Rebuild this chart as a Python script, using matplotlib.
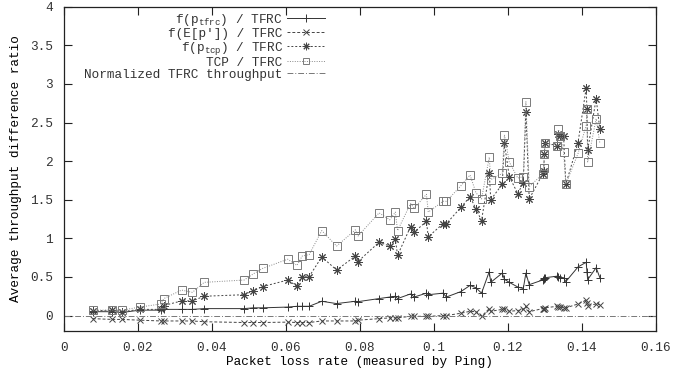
import matplotlib
matplotlib.use("Agg")
import matplotlib.pyplot as plt

# ---- data ----
loss = [0.0078, 0.0130, 0.0157, 0.0205, 0.0262, 0.0270, 0.0318, 0.0347, 0.0379,
        0.0487, 0.0512, 0.0537, 0.0605, 0.0630, 0.0644, 0.0663, 0.0697, 0.0737,
        0.0788, 0.0795, 0.0852, 0.0881, 0.0896, 0.0902, 0.0937, 0.0947, 0.0980,
        0.0985, 0.1025, 0.1034, 0.1073, 0.1098, 0.1114, 0.1129, 0.1150, 0.1154,
        0.1185, 0.1191, 0.1204, 0.1227, 0.1242, 0.1249, 0.1258, 0.1294, 0.1297,
        0.1299, 0.1301, 0.1333, 0.1337, 0.1342, 0.1351, 0.1357, 0.1390, 0.1412,
        0.1414, 0.1416, 0.1439, 0.1449]

f_tfrc = [0.05, 0.05, 0.04, 0.07, 0.07, 0.08, 0.08, 0.08, 0.09,
          0.09, 0.10, 0.10, 0.11, 0.12, 0.12, 0.12, 0.185, 0.155,
          0.185, 0.18, 0.22, 0.24, 0.25, 0.22, 0.28, 0.24, 0.29,
          0.27, 0.29, 0.24, 0.31, 0.39, 0.36, 0.29, 0.57, 0.43,
          0.55, 0.47, 0.43, 0.37, 0.35, 0.55, 0.40, 0.46, 0.49,
          0.47, 0.49, 0.51, 0.50, 0.49, 0.49, 0.44, 0.63, 0.69,
          0.57, 0.465, 0.62, 0.49]

f_ep = [-0.04, -0.05, -0.05, -0.06, -0.07, -0.07, -0.07, -0.07, -0.08,
        -0.09, -0.09, -0.09, -0.085, -0.09, -0.09, -0.09, -0.07, -0.07,
        -0.07, -0.06, -0.04, -0.03, -0.03, -0.03, -0.01, -0.01, -0.01,
        -0.01, 0.00, 0.00, 0.03, 0.055, 0.05, -0.01, 0.09, 0.055,
        0.08, 0.09, 0.055, 0.065, 0.08, 0.12, 0.05, 0.09, 0.09,
        0.09, 0.10, 0.12, 0.11, 0.11, 0.10, 0.10, 0.15, 0.20,
        0.16, 0.13, 0.15, 0.14]

f_tcp = [0.06, 0.07, 0.05, 0.08, 0.08, 0.13, 0.19, 0.19, 0.25,
         0.27, 0.32, 0.375, 0.46, 0.38, 0.50, 0.505, 0.76, 0.59,
         0.77, 0.70, 0.95, 0.90, 0.99, 0.78, 1.15, 1.08, 1.22,
         1.02, 1.19, 1.19, 1.40, 1.54, 1.38, 1.23, 1.85, 1.50,
         1.70, 2.23, 1.80, 1.58, 1.72, 2.64, 1.51, 1.83, 1.87,
         2.09, 2.24, 2.20, 2.35, 2.32, 2.32, 1.70, 2.24, 2.95,
         2.67, 2.14, 2.81, 2.41]

tcp = [0.07, 0.07, 0.07, 0.11, 0.15, 0.22, 0.33, 0.30, 0.43,
       0.46, 0.54, 0.61, 0.73, 0.65, 0.77, 0.79, 1.10, 0.90,
       1.11, 1.03, 1.33, 1.24, 1.34, 1.10, 1.45, 1.39, 1.57,
       1.34, 1.48, 1.48, 1.68, 1.82, 1.59, 1.51, 2.05, 1.76,
       1.84, 2.34, 1.99, 1.78, 1.80, 2.77, 1.67, 1.83, 1.91,
       2.09, 2.24, 2.19, 2.41, 2.33, 2.12, 1.70, 2.10, 2.46,
       2.67, 1.99, 2.55, 2.23]

norm_x = [0.0, 0.16]
norm_y = [0.0, 0.0]

labels = [r"f(p$_{\mathrm{tfrc}}$) / TFRC",
          "f(E[p']) / TFRC",
          r"f(p$_{\mathrm{tcp}}$) / TFRC",
          "TCP / TFRC",
          "Normalized TFRC throughput"]

xticks = [0, 0.02, 0.04, 0.06, 0.08, 0.1, 0.12, 0.14, 0.16]
xticklabels = ["0", "0.02", "0.04", "0.06", "0.08", "0.1", "0.12", "0.14", "0.16"]
yticks = [0, 0.5, 1, 1.5, 2, 2.5, 3, 3.5, 4]
yticklabels = ["0", "0.5", "1", "1.5", "2", "2.5", "3", "3.5", "4"]

# ---- style ----
plt.rcParams['font.family'] = ['Liberation Mono', 'DejaVu Sans Mono']
plt.rcParams['mathtext.fontset'] = 'custom'
plt.rcParams['mathtext.rm'] = 'Liberation Mono'
plt.rcParams['mathtext.it'] = 'Liberation Mono'
plt.rcParams['font.size'] = 9.2
plt.rcParams['text.color'] = '#333333'

fig = plt.figure(figsize=(6.76, 3.76), dpi=100)
ax = fig.add_axes([64/676, 1-331/376, (655.7-64)/676, (331-6.7)/376])

star = (8, 2, 0)
l1, = ax.plot(loss, f_tfrc, color='#333333', lw=0.7, ls='-', marker='+', ms=6,
              mew=0.7, label=labels[0])
l2, = ax.plot(loss, f_ep, color='#444444', lw=0.7, ls=(0, (3, 2)), marker='x', ms=5,
              mew=0.7, label=labels[1])
l3, = ax.plot(loss, f_tcp, color='#444444', lw=0.7, ls=(0, (2, 2)), marker=star, ms=6,
              mew=0.7, label=labels[2])
l4, = ax.plot(loss, tcp, color='#8a8a8a', lw=0.7, ls=(0, (1, 1.5)), marker='s', ms=5.5,
              mew=0.7, mfc='none', mec='#7a7a7a', label=labels[3])
l5, = ax.plot(norm_x, norm_y, color='#777777', lw=0.7, ls=(0, (6, 2, 1, 2)),
              label=labels[4])

ax.set_xlim(0, 0.16)
ax.set_ylim(-0.2, 4)
ax.set_xticks(xticks)
ax.set_xticklabels(xticklabels)
ax.set_yticks(yticks)
ax.set_yticklabels(yticklabels)
ax.tick_params(direction='in', length=6, width=0.8, top=True, right=True,
               labelsize=9.2, pad=8, colors='#222222', labelcolor='#333333')
for s in ax.spines.values():
    s.set_linewidth(0.9)
    s.set_color('#222222')

ax.set_xlabel("Packet loss rate (measured by Ping)", fontsize=9.2, labelpad=1)
ax.set_ylabel("Average throughput difference ratio", fontsize=9.2, labelpad=6)

leg = ax.legend(handles=[l1, l2, l3, l4, l5], loc='upper right',
                bbox_to_anchor=(0.456, 1.012), frameon=False, markerfirst=False,
                handlelength=3.0, handletextpad=0.3, labelspacing=0.0,
                borderpad=0.2, fontsize=9.2, markerscale=0.9)

fig.savefig("out.png", dpi=100)
